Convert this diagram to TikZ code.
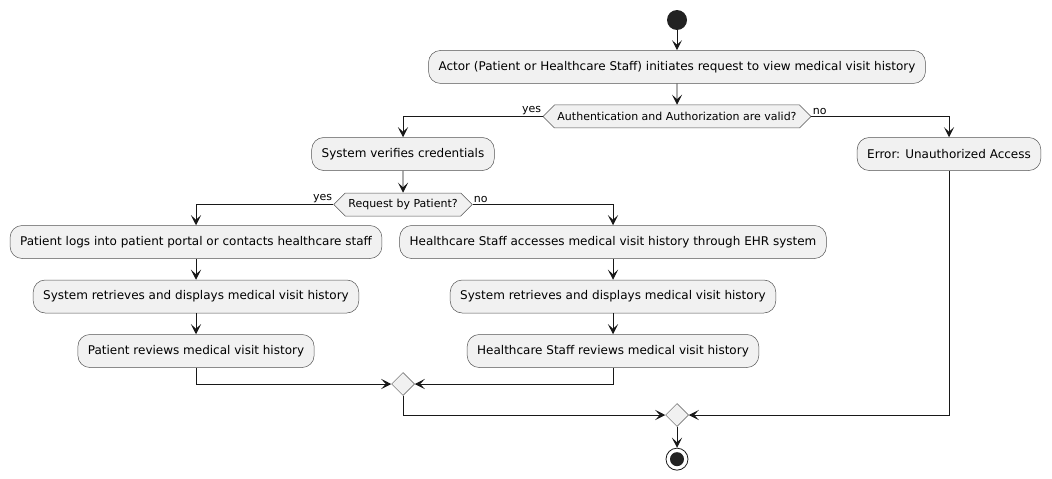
\documentclass[tikz,border=0pt]{standalone}
\usepackage{fontspec}
\setmainfont{DejaVu Sans}
\usetikzlibrary{positioning, arrows.meta, shapes.geometric, shapes.symbols}

\definecolor{boxfill}{HTML}{F1F1F1}
\definecolor{ink}{HTML}{181818}
\definecolor{dot}{HTML}{222222}

\tikzset{
  flow/.style={->, draw=ink, line width=0.9pt},
  action/.style={draw=ink!75, line width=0.5pt, fill=boxfill, rounded corners=12pt,
    minimum height=33pt, inner xsep=10pt, font=\fontsize{12}{14}\selectfont},
  choice/.style={signal, signal to=west and east, signal pointer angle=90, draw=ink!75,
    line width=0.5pt, fill=boxfill, minimum height=23pt, inner xsep=3pt, inner ysep=2pt,
    font=\fontsize{11}{12}\selectfont},
  merge/.style={diamond, draw=ink!75, line width=0.5pt, fill=boxfill, minimum size=23pt,
    inner sep=0pt},
  guard/.style={font=\fontsize{11}{12}\selectfont, inner sep=1pt}
}

\begin{document}
\begin{tikzpicture}[x=1pt, y=-1pt, >={Stealth[length=10pt, width=10pt, inset=4.5pt]}, node distance=21pt]
  \useasboundingbox (0,0) rectangle (1052,479);

  \node[circle, fill=dot, minimum size=20pt, inner sep=0pt] (start) at (677,20) {};
  \node[action] (act) [below=20pt of start] {Actor (Patient or Healthcare Staff) initiates request to view medical visit history};
  \node[choice] (auth) [below=21pt of act] {Authentication and Authorization are valid?};

  \node[action] (verify) at (403,154) {System verifies credentials};
  \node[action] (error) at (949,154) {Error: Unauthorized Access};
  \node[choice] (req) [below=22pt of verify] {Request by Patient?};

  % patient side
  \node[action] (plogin) at (196,242) {Patient logs into patient portal or contacts healthcare staff};
  \node[action] (pshow) [below=of plogin] {System retrieves and displays medical visit history};
  \node[action] (preview) [below=of pshow] {Patient reviews medical visit history};

  % staff side
  \node[action] (hlogin) at (613,242) {Healthcare Staff accesses medical visit history through EHR system};
  \node[action] (hshow) [below=of hlogin] {System retrieves and displays medical visit history};
  \node[action] (hreview) [below=of hshow] {Healthcare Staff reviews medical visit history};

  \node[merge] (m1) at (403,384) {};
  \node[merge] (m2) at (677,415) {};
  \node[circle, draw=ink, line width=0.8pt, minimum size=22pt, inner sep=0pt,
        path picture={\fill[dot] (path picture bounding box.center) circle (7pt);}] (stop) [below=21pt of m2] {};

  \draw[flow] (start) -- (act);
  \draw[flow] (act) -- (auth);
  \draw[flow] (auth.west) -| node[guard, pos=0, above left] {yes} (verify);
  \draw[flow] (auth.east) -| node[guard, pos=0, above right] {no} (error);
  \draw[flow] (verify) -- (req);
  \draw[flow] (req.west) -| node[guard, pos=0, above left] {yes} (plogin);
  \draw[flow] (req.east) -| node[guard, pos=0, above right] {no} (hlogin);
  \draw[flow] (plogin) -- (pshow);
  \draw[flow] (pshow) -- (preview);
  \draw[flow] (hlogin) -- (hshow);
  \draw[flow] (hshow) -- (hreview);
  \draw[flow] (preview) |- (m1);
  \draw[flow] (hreview) |- (m1);
  \draw[flow] (m1) |- (m2);
  \draw[flow] (error) |- (m2);
  \draw[flow] (m2) -- (stop);
\end{tikzpicture}
\end{document}
